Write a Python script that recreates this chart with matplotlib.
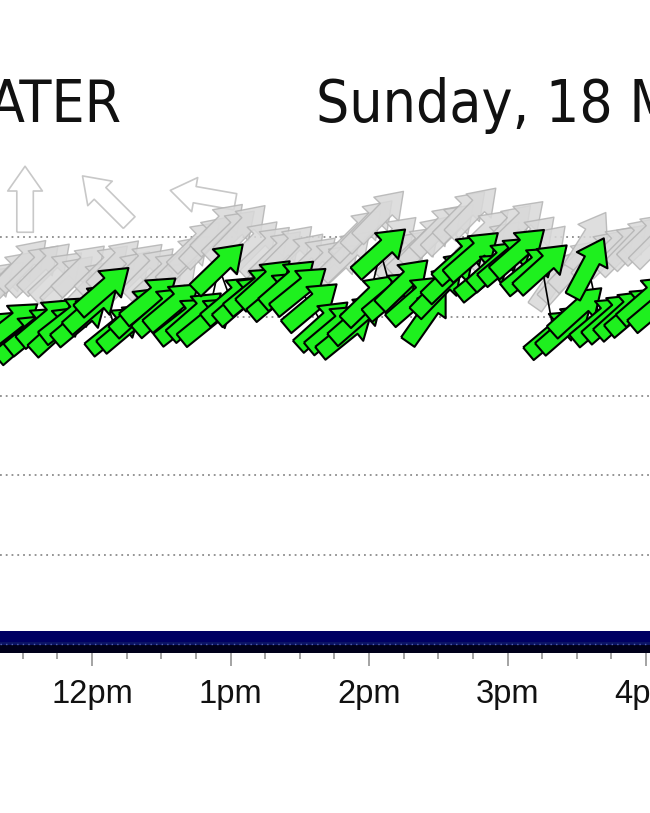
import matplotlib.pyplot as plt
import numpy as np

# 5-minute samples
TIMES = ["11:15", "11:20", "11:25", "11:30", "11:35", "11:40", "11:45", "11:50", "11:55",
         "12:00", "12:05", "12:10", "12:15", "12:20", "12:25", "12:30", "12:35", "12:40",
         "12:45", "12:50", "12:55", "13:00", "13:05", "13:10", "13:15", "13:20", "13:25",
         "13:30", "13:35", "13:40", "13:45", "13:50", "13:55", "14:00", "14:05", "14:10",
         "14:15", "14:20", "14:25", "14:30", "14:35", "14:40", "14:45", "14:50", "14:55",
         "15:00", "15:05", "15:10", "15:15", "15:20", "15:25", "15:30", "15:35", "15:40",
         "15:45", "15:50", "15:55", "16:00", "16:05"]

# average wind (knots) and direction it comes from (deg)
WIND = [18.9, 18.2, 19.5, 18.7, 19.2, 19.7, 19.2, 19.9, 19.8, 20.6,
        21.7, 19.2, 19.4, 20.4, 21.1, 20.4, 20.7, 19.8, 20.1, 19.8,
        23.1, 21.1, 21.1, 21.7, 22.1, 21.4, 22.1, 21.7, 20.7, 19.5,
        19.3, 19.0, 19.9, 21.1, 24.1, 21.4, 22.1, 21.1, 20.1, 21.7,
        22.6, 23.7, 23.9, 22.6, 23.3, 23.6, 24.1, 23.0, 23.1, 19.0,
        19.3, 20.4, 23.1, 19.8, 20.0, 20.2, 20.4, 21.1, 20.7]
WIND_DIR = [230, 228, 232, 229, 231, 230, 228, 232, 230, 229,
            229, 231, 230, 228, 231, 229, 230, 232, 229, 231,
            226, 230, 229, 231, 228, 230, 229, 231, 230, 228,
            230, 231, 229, 226, 228, 230, 226, 229, 215, 224,
            226, 228, 229, 231, 228, 230, 229, 231, 228, 230,
            229, 228, 208, 230, 229, 228, 230, 229, 230]

# gusts (knots) and direction
GUST = [21.7, 22.0, 22.6, 23.3, 23.0, 23.1, 22.6, 22.3, 23.0, 22.0,
        23.0, 23.3, 22.6, 23.1, 22.8, 22.6, 22.0, 23.6, 24.5, 24.8,
        25.6, 25.2, 25.5, 24.5, 24.2, 23.9, 24.2, 23.7, 23.5, 23.3,
        23.1, 23.9, 25.2, 25.8, 26.4, 24.8, 23.9, 24.2, 24.8, 25.5,
        25.6, 26.4, 26.6, 25.2, 24.5, 25.5, 25.8, 24.8, 24.2, 22.3,
        22.6, 23.3, 24.8, 23.9, 24.2, 24.3, 24.7, 25.0, 24.8]
GUST_DIR = [228, 226, 225, 224, 226, 225, 227, 225, 226, 224,
            226, 225, 224, 226, 225, 227, 224, 225, 226, 224,
            225, 226, 224, 225, 227, 226, 225, 224, 226, 225,
            227, 226, 225, 224, 224, 226, 225, 227, 224, 225,
            226, 225, 224, 226, 225, 224, 226, 225, 224, 215,
            222, 225, 212, 224, 226, 225, 224, 226, 225]

# lulls
LULL_TIMES = ["11:31", "12:06", "12:48"]
LULL = [27.4, 27.4, 27.6]
LULL_DIR = [180, 135, 100]

TITLE_LEFT = "ATER"
TITLE_RIGHT = "Sunday, 18 M"
HOUR_TICKS = [12, 13, 14, 15, 16]
HOUR_LABELS = ["12pm", "1pm", "2pm", "3pm", "4pm"]
GRID_LEVELS = [5, 10, 15, 20, 25]

W, H = 650, 813
X_LEFT = 12 - 92 / 138.5
X_RIGHT = 12 + 558 / 138.5
ARROW_LEN = 66


def to_hours(labels):
    return np.array([int(s[:2]) + int(s[3:]) / 60 for s in labels])


def arrows(ax, t, spd, dfrom, face, edge, lw, z, alpha=1.0):
    ang = 270 - np.asarray(dfrom, dtype=float)
    n = len(t)
    ax.quiver(t, spd, np.full(n, ARROW_LEN), np.zeros(n), angles=ang,
              scale_units="dots", scale=1, units="dots", width=16.5,
              headwidth=2.1, headlength=1.5, headaxislength=1.5,
              pivot="middle", color=face, edgecolor=edge, linewidth=lw,
              alpha=alpha, zorder=z)


if __name__ == "__main__":
    t = to_hours(TIMES)

    fig = plt.figure(figsize=(W / 100, H / 100), dpi=100)
    ax = fig.add_axes([0, (H - 634) / H, 1, (634 - 158) / H])
    for s in ax.spines.values():
        s.set_visible(False)
    ax.set_xticks([])
    ax.set_yticks(GRID_LEVELS)
    ax.tick_params(axis="y", length=0, labelleft=False)
    ax.grid(axis="y", color="#8c8c8c", linestyle=(0, (1, 2.2)), linewidth=1.3)
    ax.set_xlim(X_LEFT, X_RIGHT)
    ax.set_ylim(0, 30)

    arrows(ax, to_hours(LULL_TIMES), LULL, LULL_DIR, "white", "#c8c8c8", 1.2, 2)
    arrows(ax, t, GUST, GUST_DIR, "#d9d9d9", "#b3b3b3", 1.0, 3, alpha=0.85)
    ax.plot(t, WIND, color="black", linewidth=1.2, zorder=4)
    arrows(ax, t, WIND, WIND_DIR, "#1ef01e", "black", 1.5, 5)

    # dark axis band with hour ticks
    bx = fig.add_axes([0, (H - 653) / H, 1, 22 / H])
    bx.axhspan(0.5, 1, color="#000063", linewidth=0)
    bx.axhspan(0.35, 0.5, color="#0b1466", linewidth=0)
    bx.axhspan(0, 0.35, color="#00001a", linewidth=0)
    bx.axhline(0.43, color="#5565b0", linewidth=1, linestyle=(0, (1, 3)))
    for s in bx.spines.values():
        s.set_visible(False)
    bx.set_yticks([])
    bx.set_xticks(HOUR_TICKS)
    bx.set_xticklabels(HOUR_LABELS, fontsize=23.5, family=["Liberation Sans", "DejaVu Sans"], color="#111111")
    bx.set_xticks(np.arange(11.5, 16.1, 0.25), minor=True)
    bx.tick_params(axis="x", which="major", length=9.5, width=1.1, color="#8a8a8a", pad=9)
    bx.tick_params(axis="x", which="minor", length=4.5, width=1.1, color="#8a8a8a")
    bx.set_xlim(X_LEFT, X_RIGHT)
    bx.set_ylim(0, 1)

    fig.text(122 / W, (H - 122) / H, TITLE_LEFT, ha="right", va="baseline",
             fontsize=42, family="DejaVu Sans", fontstretch="condensed", color="#111111")
    fig.text(316 / W, (H - 122) / H, TITLE_RIGHT, ha="left", va="baseline",
             fontsize=42, family="DejaVu Sans", fontstretch="condensed", color="#111111")

    fig.savefig("out.png", dpi=100, facecolor="white")
